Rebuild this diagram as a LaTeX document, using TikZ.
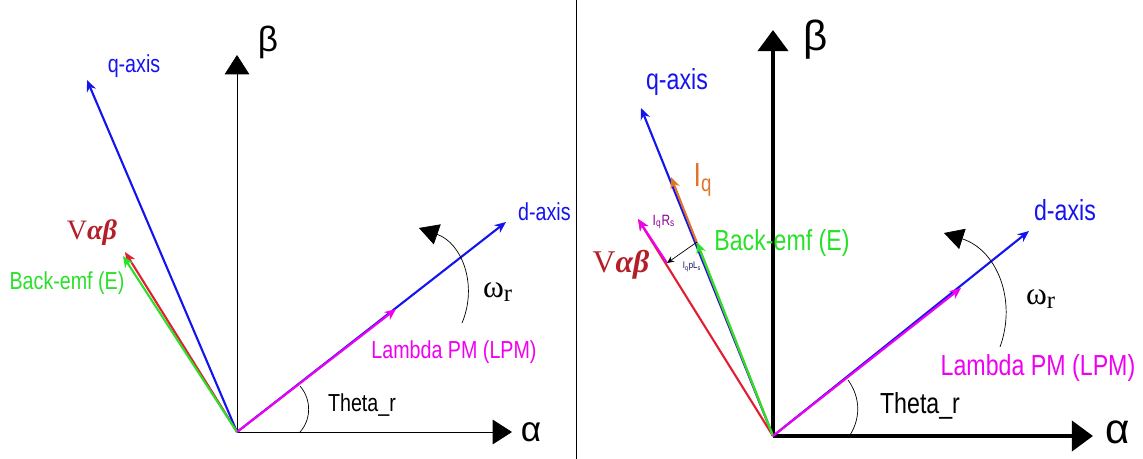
\documentclass[tikz,border=0pt]{standalone}
\usepackage{fontspec}
\setmainfont{Liberation Sans}
\newfontfamily\narrowsf[FakeStretch=0.8]{Liberation Sans}
\newfontfamily\serifgr{Liberation Serif}
\usetikzlibrary{arrows.meta}

\definecolor{qblue}{RGB}{20,20,240}
\definecolor{lpm}{RGB}{240,0,240}
\definecolor{vred}{RGB}{225,30,50}
\definecolor{emf}{RGB}{40,225,40}
\definecolor{iqor}{RGB}{225,115,40}
\definecolor{vlab}{RGB}{180,30,40}

\begin{document}
\begin{tikzpicture}[
  x=0.02cm, y=-0.02cm,
  axis/.style={-{Triangle[length=11pt,width=14pt]}},
  axisb/.style={line width=2.5pt,-{Triangle[length=12pt,width=17pt]}},
  vec/.style={-{Stealth[length=6.5pt,width=5.5pt]},line width=1.2pt},
  spin/.style={-{Triangle[length=11pt,width=12pt]},thin},
  lbl/.style={font=\narrowsf\fontsize{14}{14}\selectfont},
  lblb/.style={font=\narrowsf\fontsize{16.5}{16.5}\selectfont},
  greek/.style={font=\fontsize{20}{20}\selectfont}
]
  \useasboundingbox (0,0) rectangle (1143,459);

  % left panel
  \coordinate (o1) at (237,432);
  \coordinate (a1) at (512,432);
  \coordinate (b1) at (237,55);
  \coordinate (q1) at (87,80);
  \coordinate (d1) at (506,222);
  \coordinate (lp1) at (396,309);
  \coordinate (v1) at (125,252);
  \coordinate (e1) at (123,256);

  \draw[axis] (o1) -- (a1);
  \draw[axis] (o1) -- (b1);
  \draw[vec,qblue] (o1) -- (q1);
  \draw[vec,qblue] (o1) -- (d1);
  \draw[vec,vred] (o1) -- (v1);
  \draw[vec,emf] (o1) -- (e1);
  \draw[vec,lpm] (o1) -- (lp1);

  \coordinate (th1s) at (300,386);
  \coordinate (th1e) at (300,432);
  \draw[thin] (th1s) .. controls (312,400) and (311,420) .. (th1e);
  \coordinate (w1s) at (462,323);
  \coordinate (w1e) at (419,228);
  \draw[spin] (w1s) .. controls (478,285) and (462,243) .. (w1e);

  \node[greek] (alpha1) at (531,432) {α};
  \node[greek] (beta1) at (268,42) {β};
  \node[lbl,text=qblue] (qlab1) at (134,66) {q-axis};
  \node[lbl,text=qblue,anchor=west] (dlab1) at (512,212) {d-axis};
  \node[lbl,text=lpm] (lplab1) at (454,352) {Lambda PM (LPM)};
  \node[lbl] (thlab1) at (362,405) {Theta\_r};
  \node[font=\serifgr\fontsize{16}{16}\selectfont,text=vlab] (vlab1) at (92,233) {V\textbf{\textit{αβ}}};
  \node[lbl,text=emf] (elab1) at (67,283) {Back-emf (E)};
  \node[font=\serifgr\fontsize{18}{18}\selectfont] (wlab1) at (498,292) {ω\textsubscript{\fontsize{14}{14}\selectfont r}};

  % separator (hides the clipped d-axis text)
  \fill[white] (577,0) rectangle (590,459);
  \draw[thin] (576,0) -- (576,459);

  % right panel
  \coordinate (o2) at (773,436);
  \coordinate (a2) at (1093,436);
  \coordinate (b2) at (773,30);
  \coordinate (q2) at (641,108);
  \coordinate (d2) at (1029,231);
  \coordinate (lp2) at (961,288);
  \coordinate (v2) at (638,219);
  \coordinate (iq2) at (671,177);
  \coordinate (e2) at (697,242);
  \coordinate (rs2) at (667,263);

  \draw[axisb] (o2) -- (a2);
  \draw[axisb] (o2) -- (b2);
  \draw[vec,qblue] (o2) -- (q2);
  \draw[vec,qblue] (o2) -- (d2);
  \draw[vec,vred] (o2) -- (v2);
  \draw[vec,iqor] (o2) -- (iq2);
  \draw[vec,emf] (o2) -- (e2);
  \draw[vec,lpm] (o2) -- (lp2);
  \draw[vec,lpm] (rs2) -- (v2);
  \draw[-{Stealth[length=4pt,width=3.5pt]},thin] (e2) -- (rs2);

  \coordinate (th2s) at (848,380);
  \coordinate (th2e) at (848,438);
  \draw[thin] (th2s) .. controls (861,398) and (861,420) .. (th2e);
  \coordinate (w2s) at (1000,347);
  \coordinate (w2e) at (944,233);
  \draw[spin] (w2s) .. controls (1017,300) and (997,250) .. (w2e);

  \node[greek,font=\fontsize{24}{24}\selectfont] (alpha2) at (1118,432) {α};
  \node[greek,font=\fontsize{24}{24}\selectfont] (beta2) at (816,40) {β};
  \node[lblb,text=qblue] (qlab2) at (677,82) {q-axis};
  \node[lblb,text=qblue] (dlab2) at (1065,210) {d-axis};
  \node[lblb,text=lpm] (lplab2) at (1038,368) {Lambda PM (LPM)};
  \node[lblb] (thlab2) at (920,406) {Theta\_r};
  \node[lblb,text=emf] (elab2) at (782,243) {Back-emf (E)};
  \node[font=\narrowsf\fontsize{19}{19}\selectfont,text=iqor] (iqlab2) at (703,180) {I\textsubscript{q}};
  \node[font=\serifgr\fontsize{18}{18}\selectfont,text=vlab] (vlab2) at (621,265) {V\textbf{\textit{αβ}}};
  \node[font=\narrowsf\fontsize{8.5}{8.5}\selectfont,text=lpm!60!black] (rslab2) at (664,222) {I\textsubscript{q}R\textsubscript{s}};
  \node[font=\narrowsf\fontsize{5.5}{5.5}\selectfont,text=qblue!40!black] (lslab2) at (692,267) {I\textsubscript{q}pL\textsubscript{s}};
  \node[font=\serifgr\fontsize{18}{18}\selectfont] (wlab2) at (1041,299) {ω\textsubscript{\fontsize{14}{14}\selectfont r}};
\end{tikzpicture}
\end{document}
